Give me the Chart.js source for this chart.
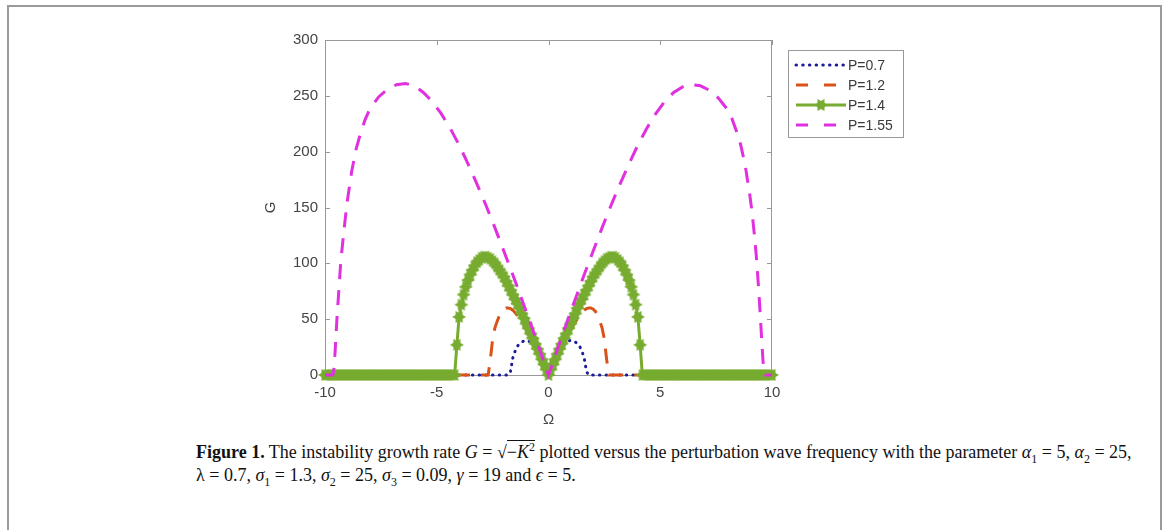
<!DOCTYPE html>
<html>
<head>
<meta charset="utf-8">
<script src="https://cdn.jsdelivr.net/npm/chart.js@4.4.1/dist/chart.umd.min.js"></script>
<style>
  html, body { margin: 0; padding: 0; background: #fff; }
  body { width: 1170px; height: 530px; position: relative; overflow: hidden; }
  #frame { position: absolute; left: 7px; top: 5px; width: 1151px; height: 560px;
           border: 2px solid #9a9a9a; border-bottom: none; }
  #chart { position: absolute; left: 0; top: 0; }
  #caption { position: absolute; left: 196px; top: 441px; color: #111;
             font-family: "Liberation Serif", "Times New Roman", serif;
             font-size: 18px; line-height: 23px; white-space: nowrap; }
  #caption sub, #caption sup { font-size: 12px; line-height: 0; }
  .rad { border-top: 1px solid #111; padding-top: 1px; }
</style>
</head>
<body>
<div id="frame"></div>
<canvas id="chart" width="1170" height="430"></canvas>
<div id="caption"><b>Figure 1.</b> The instability growth rate <i>G</i> = √<span class="rad">−<i>K</i><sup>2</sup></span> plotted versus the perturbation wave frequency with the parameter <i>α</i><sub>1</sub> = 5, <i>α</i><sub>2</sub> = 25,<br>λ = 0.7, <i>σ</i><sub>1</sub> = 1.3, <i>σ</i><sub>2</sub> = 25, <i>σ</i><sub>3</sub> = 0.09, <i>γ</i> = 19 and <i>ϵ</i> = 5.</div>
<script>
// Omega grid (step 0.1) used by the P=1.4 curve (drawn with markers)
const omegaP14 = [
  -10.0, -9.9, -9.8, -9.7, -9.6, -9.5, -9.4, -9.3, -9.2, -9.1,
  -9.0, -8.9, -8.8, -8.7, -8.6, -8.5, -8.4, -8.3, -8.2, -8.1,
  -8.0, -7.9, -7.8, -7.7, -7.6, -7.5, -7.4, -7.3, -7.2, -7.1,
  -7.0, -6.9, -6.8, -6.7, -6.6, -6.5, -6.4, -6.3, -6.2, -6.1,
  -6.0, -5.9, -5.8, -5.7, -5.6, -5.5, -5.4, -5.3, -5.2, -5.1,
  -5.0, -4.9, -4.8, -4.7, -4.6, -4.5, -4.4, -4.3, -4.2, -4.1,
  -4.0, -3.9, -3.8, -3.7, -3.6, -3.5, -3.4, -3.3, -3.2, -3.1,
  -3.0, -2.9, -2.8, -2.7, -2.6, -2.5, -2.4, -2.3, -2.2, -2.1,
  -2.0, -1.9, -1.8, -1.7, -1.6, -1.5, -1.4, -1.3, -1.2, -1.1,
  -1.0, -0.9, -0.8, -0.7, -0.6, -0.5, -0.4, -0.3, -0.2, -0.1,
  0.0,
  0.1, 0.2, 0.3, 0.4, 0.5, 0.6, 0.7, 0.8, 0.9, 1.0,
  1.1, 1.2, 1.3, 1.4, 1.5, 1.6, 1.7, 1.8, 1.9, 2.0,
  2.1, 2.2, 2.3, 2.4, 2.5, 2.6, 2.7, 2.8, 2.9, 3.0,
  3.1, 3.2, 3.3, 3.4, 3.5, 3.6, 3.7, 3.8, 3.9, 4.0,
  4.1, 4.2, 4.3, 4.4, 4.5, 4.6, 4.7, 4.8, 4.9, 5.0,
  5.1, 5.2, 5.3, 5.4, 5.5, 5.6, 5.7, 5.8, 5.9, 6.0,
  6.1, 6.2, 6.3, 6.4, 6.5, 6.6, 6.7, 6.8, 6.9, 7.0,
  7.1, 7.2, 7.3, 7.4, 7.5, 7.6, 7.7, 7.8, 7.9, 8.0,
  8.1, 8.2, 8.3, 8.4, 8.5, 8.6, 8.7, 8.8, 8.9, 9.0,
  9.1, 9.2, 9.3, 9.4, 9.5, 9.6, 9.7, 9.8, 9.9, 10.0
];
const gP14 = [
  0, 0, 0, 0, 0, 0, 0, 0, 0, 0,
  0, 0, 0, 0, 0, 0, 0, 0, 0, 0,
  0, 0, 0, 0, 0, 0, 0, 0, 0, 0,
  0, 0, 0, 0, 0, 0, 0, 0, 0, 0,
  0, 0, 0, 0, 0, 0, 0, 0, 0, 0,
  0, 0, 0, 0, 0, 0, 0, 0, 0, 27,
  52, 63, 72, 79, 85, 90, 94, 98, 101, 103,
  105, 106, 106, 105, 104, 102, 100, 97, 94, 91,
  88, 84, 80, 76, 72, 68, 64, 60, 55, 51,
  46, 42, 37, 33, 28, 23.5, 19, 14, 9.5, 5,
  0,
  5, 9.5, 14, 19, 23.5, 28, 33, 37, 42, 46,
  51, 55, 60, 64, 68, 72, 76, 80, 84, 88,
  91, 94, 97, 100, 102, 104, 105, 106, 106, 105,
  103, 101, 98, 94, 90, 85, 79, 72, 63, 52,
  27, 0, 0, 0, 0, 0, 0, 0, 0, 0,
  0, 0, 0, 0, 0, 0, 0, 0, 0, 0,
  0, 0, 0, 0, 0, 0, 0, 0, 0, 0,
  0, 0, 0, 0, 0, 0, 0, 0, 0, 0,
  0, 0, 0, 0, 0, 0, 0, 0, 0, 0,
  0, 0, 0, 0, 0, 0, 0, 0, 0, 0
];

// P=0.7 (dotted)
const omegaP07 = [-10, -1.8, -1.7, -1.6, -1.5, -1.4, -1.3, -1.2, -1.1, -1.0, -0.9, -0.8, -0.7, -0.6, -0.5, -0.4, -0.3, -0.2, -0.1, 0,
  0.1, 0.2, 0.3, 0.4, 0.5, 0.6, 0.7, 0.8, 0.9, 1.0, 1.1, 1.2, 1.3, 1.4, 1.5, 1.6, 1.7, 1.8, 10];
const gP07 = [0, 0, 3, 15, 21, 25.5, 28, 29.5, 30.5, 31, 30.5, 29.5, 27.5, 25, 22, 18, 14, 9.5, 5, 0,
  5, 9.5, 14, 18, 22, 25, 27.5, 29.5, 30.5, 31, 30.5, 29.5, 28, 25.5, 21, 15, 3, 0, 0];

// P=1.2 (dashed)
const omegaP12 = [-10, -2.7, -2.6, -2.5, -2.4, -2.3, -2.2, -2.1, -2.0, -1.9, -1.8, -1.7, -1.6, -1.5, -1.4, -1.3, -1.2, -1.1,
  -1.0, -0.9, -0.8, -0.7, -0.6, -0.5, -0.4, -0.3, -0.2, -0.1, 0,
  0.1, 0.2, 0.3, 0.4, 0.5, 0.6, 0.7, 0.8, 0.9, 1.0, 1.1, 1.2, 1.3, 1.4, 1.5, 1.6, 1.7, 1.8, 1.9, 2.0,
  2.1, 2.2, 2.3, 2.4, 2.5, 2.6, 2.7, 10];
const gP12 = [0, 0, 14, 32, 42, 48, 53, 57, 59, 60, 60, 59.5, 58, 56, 53.5, 50.5, 47.5, 44,
  40.5, 37, 33, 29, 25, 21, 17, 12.5, 8.5, 4, 0,
  4, 8.5, 12.5, 17, 21, 25, 29, 33, 37, 40.5, 44, 47.5, 50.5, 53.5, 56, 58, 59.5, 60, 60, 59,
  57, 53, 48, 42, 32, 14, 0, 0];

// P=1.55 (dashed)
const omegaP155 = [-10, -9.65, -9.6, -9.55, -9.5, -9.45, -9.4, -9.3, -9.2, -9.1, -9.0, -8.8, -8.6, -8.4, -8.2, -8.0,
  -7.6, -7.2, -6.8, -6.4, -6.0, -5.6, -5.2, -4.8, -4.4, -4.0, -3.6, -3.2, -2.8, -2.4, -2.0, -1.6, -1.2, -0.8, -0.4, -0.2, 0,
  0.2, 0.4, 0.8, 1.2, 1.6, 2.0, 2.4, 2.8, 3.2, 3.6, 4.0, 4.4, 4.8, 5.2, 5.6, 6.0, 6.4, 6.8, 7.2, 7.6,
  8.0, 8.2, 8.4, 8.6, 8.8, 9.0, 9.1, 9.2, 9.3, 9.4, 9.45, 9.5, 9.55, 9.6, 9.65, 9.7, 10];
const gP155 = [0, 0, 5, 20, 38, 56, 70, 100, 120, 139, 156, 183, 203, 217, 229, 238,
  249, 256, 260, 261, 259, 253, 245, 234, 221, 206, 189, 171, 152, 132, 111, 90, 68, 46, 23, 11, 0,
  11, 23, 46, 68, 90, 111, 132, 152, 171, 189, 206, 221, 234, 245, 253, 258, 260, 259, 255, 248,
  238, 230, 219, 206, 188, 162, 147, 128, 106, 78, 62, 45, 28, 12, 3, 0, 0];

const seriesLabels = ['P=0.7', 'P=1.2', 'P=1.4', 'P=1.55'];
const xTicks = [-10, -5, 0, 5, 10];
const yTicks = [0, 50, 100, 150, 200, 250, 300];

const colBlue = '#1b1b9c';
const colOrange = '#D95319';
const colGreen = '#77AC30';
const colMagenta = '#E030E0';

function pts(xs, ys) {
  return xs.map((x, i) => ({ x: x, y: ys[i] }));
}

// six-pointed star marker like matlab's hexagram
function makeHexagram(r, color) {
  const c = document.createElement('canvas');
  const s = Math.ceil(r * 2 + 2);
  c.width = s;
  c.height = s;
  const g = c.getContext('2d');
  g.fillStyle = color;
  g.translate(s / 2, s / 2);
  [0, Math.PI].forEach(off => {
    g.beginPath();
    for (let k = 0; k < 3; k++) {
      const a = off + k * 2 * Math.PI / 3;
      g.lineTo(r * Math.cos(a), r * Math.sin(a));
    }
    g.closePath();
    g.fill();
  });
  return c;
}
const star = makeHexagram(7, colGreen);

// box, inward ticks, axis titles and legend drawn matlab-style
const matlabAxes = {
  id: 'matlabAxes',
  beforeDatasetsDraw(chart) {
    const { ctx, chartArea: a, scales } = chart;
    ctx.save();
    ctx.strokeStyle = '#999';
    ctx.lineWidth = 1;
    ctx.beginPath();
    ctx.moveTo(a.left, a.top + 0.5);
    ctx.lineTo(a.right, a.top + 0.5);
    ctx.moveTo(a.right - 0.5, a.top);
    ctx.lineTo(a.right - 0.5, a.bottom);
    scales.x.ticks.forEach(t => {
      const px = Math.round(scales.x.getPixelForValue(t.value)) + 0.5;
      ctx.moveTo(px, a.bottom); ctx.lineTo(px, a.bottom - 5);
      ctx.moveTo(px, a.top); ctx.lineTo(px, a.top + 5);
    });
    scales.y.ticks.forEach(t => {
      const py = Math.round(scales.y.getPixelForValue(t.value)) + 0.5;
      ctx.moveTo(a.left, py); ctx.lineTo(a.left + 5, py);
      ctx.moveTo(a.right, py); ctx.lineTo(a.right - 5, py);
    });
    ctx.stroke();

    ctx.fillStyle = '#444';
    ctx.font = '15px "Liberation Sans", Arial, sans-serif';
    ctx.textAlign = 'center';
    ctx.textBaseline = 'middle';
    ctx.fillText('Ω', (a.left + a.right) / 2, 420);
    ctx.translate(271, (a.top + a.bottom) / 2);
    ctx.rotate(-Math.PI / 2);
    ctx.fillText('G', 0, 0);
    ctx.restore();
  },
  afterDatasetsDraw(chart) {
    const ctx = chart.ctx;
    const bx = 788, by = 50, bw = 115, bh = 87;
    ctx.save();
    ctx.fillStyle = '#fff';
    ctx.fillRect(bx, by, bw, bh);
    ctx.strokeStyle = '#999';
    ctx.lineWidth = 1;
    ctx.strokeRect(bx + 0.5, by + 0.5, bw, bh);
    const rows = [65, 85, 105, 125];
    chart.data.datasets.forEach((ds, i) => {
      const y = rows[i];
      ctx.save();
      ctx.strokeStyle = ds.borderColor;
      ctx.lineWidth = ds.borderWidth;
      ctx.lineCap = ds.borderCapStyle || 'butt';
      const dash = i === 0 ? [0.5, 6.2] : (i === 2 ? [] : [12, 16]);
      ctx.setLineDash(dash);
      ctx.beginPath();
      ctx.moveTo(796, y);
      ctx.lineTo(846, y);
      ctx.stroke();
      ctx.restore();
      if (i === 2) {
        ctx.drawImage(star, 821 - star.width / 2, y - star.height / 2);
      }
      ctx.fillStyle = '#3a3a3a';
      ctx.font = '14px "Liberation Sans", Arial, sans-serif';
      ctx.textAlign = 'left';
      ctx.textBaseline = 'middle';
      ctx.fillText(ds.label, 848, y + 1);
    });
    ctx.restore();
  }
};

const tickFont = { family: '"Liberation Sans", Arial, sans-serif', size: 15 };

const ctx = document.getElementById('chart').getContext('2d');
new Chart(ctx, {
  type: 'line',
  data: {
    datasets: [
      { label: seriesLabels[0], data: pts(omegaP07, gP07), borderColor: colBlue, borderWidth: 3,
        borderDash: [0.5, 6.2], borderCapStyle: 'round', pointRadius: 0, order: 3 },
      { label: seriesLabels[1], data: pts(omegaP12, gP12), borderColor: colOrange, borderWidth: 3,
        borderDash: [15, 11], pointRadius: 0, order: 2 },
      { label: seriesLabels[2], data: pts(omegaP14, gP14), borderColor: colGreen, borderWidth: 3,
        pointStyle: star, pointRadius: 7, order: 1 },
      { label: seriesLabels[3], data: pts(omegaP155, gP155), borderColor: colMagenta, borderWidth: 3,
        borderDash: [15, 11], pointRadius: 0, order: 0 }
    ]
  },
  options: {
    responsive: false,
    animation: false,
    devicePixelRatio: 1,
    events: [],
    clip: 10,
    layout: { padding: { left: 265, right: 398, top: 40, bottom: 0 } },
    elements: { line: { tension: 0, fill: false } },
    plugins: { legend: { display: false }, tooltip: { enabled: false } },
    scales: {
      x: {
        type: 'linear', min: -10, max: 10,
        afterBuildTicks: s => { s.ticks = xTicks.map(v => ({ value: v })); },
        ticks: { color: '#444', font: tickFont, padding: 9, maxRotation: 0 },
        grid: { display: false, drawTicks: false },
        border: { color: '#999', width: 1 },
        afterFit: s => { s.height = 55; }
      },
      y: {
        type: 'linear', min: 0, max: 300,
        afterBuildTicks: s => { s.ticks = yTicks.map(v => ({ value: v })); },
        ticks: { color: '#444', font: tickFont, padding: 7 },
        grid: { display: false, drawTicks: false },
        border: { color: '#999', width: 1 },
        afterFit: s => { s.width = 60; }
      }
    }
  },
  plugins: [matlabAxes]
});
</script>
</body>
</html>
